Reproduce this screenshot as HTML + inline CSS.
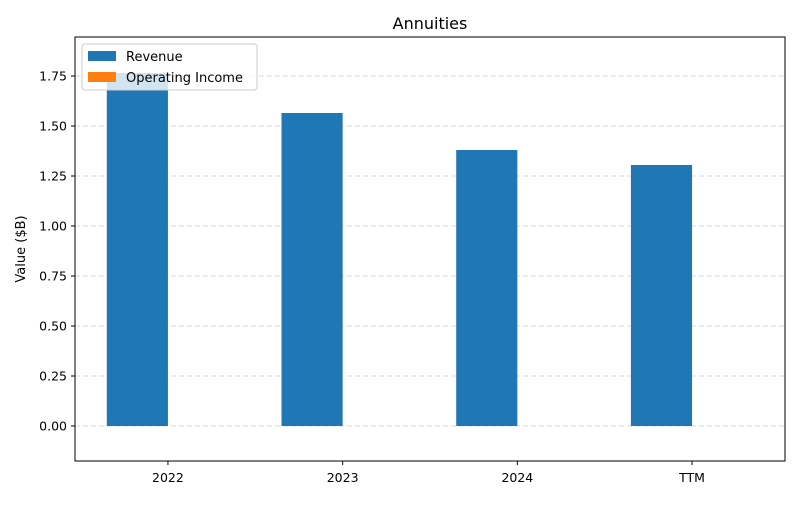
<!DOCTYPE html>
<html><head><meta charset="utf-8"><style>
body{margin:0;background:#fff;font-family:"Liberation Sans","DejaVu Sans",sans-serif;}
</style></head><body>
<svg width="800" height="500" xmlns="http://www.w3.org/2000/svg" id="chart" font-family="DejaVu Sans, Liberation Sans, sans-serif">
<rect width="800" height="500" fill="#fff"/>
<text x="430" y="29" text-anchor="middle" font-size="16">Annuities</text>
<text transform="translate(25,249) rotate(-90)" text-anchor="middle" font-size="13">Value ($B)</text>
<g id="grid"></g><g id="bars"></g><g id="ticks"></g>
<rect x="75" y="37" width="710" height="424" fill="none" stroke="#000" stroke-width="1"/>
<g>
<rect x="82" y="44" width="175" height="46" rx="3" fill="#fff" fill-opacity="0.8" stroke="#ccc"/>
<rect x="88" y="51" width="28" height="10" fill="#1f77b4"/>
<text x="126" y="61" font-size="13">Revenue</text>
<rect x="88" y="72" width="28" height="10" fill="#ff7f0e"/>
<text x="126" y="82" font-size="13">Operating Income</text>
</g>
</svg>
<script>
const categories=["2022","2023","2024","TTM"];
const revenue=[1.765,1.565,1.38,1.305];
const operatingIncome=[0,0,0,0];
const yTicks=[0,0.25,0.5,0.75,1.0,1.25,1.5,1.75];
const NS="http://www.w3.org/2000/svg";
const X0=75,X1=785,Y0=37,Y1=461,xmin=-0.532,xmax=3.532,ymin=-0.175,ymax=1.945;
function xs(v){return X0+(v-xmin)/(xmax-xmin)*(X1-X0);}
function ys(v){return Y1-(v-ymin)/(ymax-ymin)*(Y1-Y0);}
function mk(t,a,p){const e=document.createElementNS(NS,t);for(const k in a)e.setAttribute(k,a[k]);p.appendChild(e);return e;}
const grid=document.getElementById('grid'),bars=document.getElementById('bars'),ticks=document.getElementById('ticks');
yTicks.forEach(v=>{
 const y=ys(v);
 const g=mk('line',{x1:X0,x2:X1,y1:y,y2:y,stroke:'#ccc','stroke-dasharray':'5,3','stroke-width':0.8},grid);
 
 
 mk('line',{x1:X0-4,x2:X0,y1:y,y2:y,stroke:'#000'},ticks);
 const t=mk('text',{x:X0-8,y:y+4.5,'text-anchor':'end','font-size':12.5},ticks);
 t.textContent=v.toFixed(2);
 
 
});
const bw=0.35;
categories.forEach((c,i)=>{
 const r=mk('rect',{x:xs(i-bw),width:xs(bw)-xs(0),y:ys(Math.max(revenue[i],0)),height:Math.abs(ys(0)-ys(revenue[i])),fill:'#1f77b4'},bars);
 
 
 const o=mk('rect',{x:xs(i),width:xs(bw)-xs(0),y:ys(Math.max(operatingIncome[i],0)),height:Math.abs(ys(0)-ys(operatingIncome[i])),fill:'#ff7f0e'},bars);
 
 
 const x=xs(i);
 mk('line',{x1:x,x2:x,y1:Y1,y2:Y1+4,stroke:'#000'},ticks);
 const t=mk('text',{x:x,y:Y1+21,'text-anchor':'middle','font-size':12.5},ticks);
 t.textContent=c;
 
 
});
</script>
</body></html>
